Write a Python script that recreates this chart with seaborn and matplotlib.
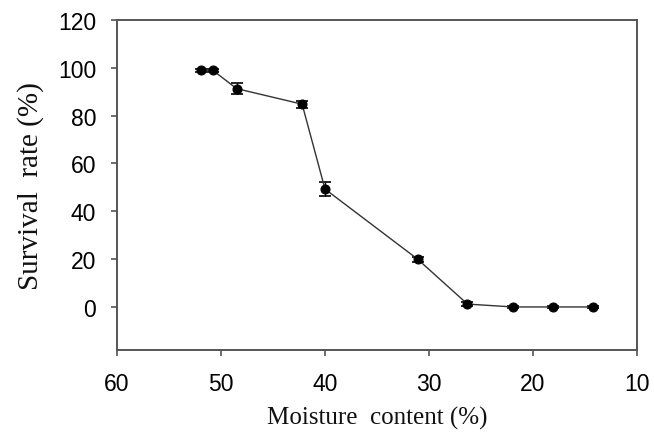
import matplotlib
matplotlib.use("Agg")
import matplotlib.pyplot as plt
import seaborn as sns
import pandas as pd

moisture = [51.9, 50.8, 48.5, 42.2, 40.0, 31.1, 26.3, 21.9, 18.1, 14.2]
survival = [99.0, 99.0, 91.3, 84.8, 49.3, 20.0, 1.2, 0.0, 0.0, 0.0]
errors = [0.6, 0.6, 2.2, 1.5, 2.9, 1.1, 0.8, 0.3, 0.3, 0.3]
x_ticks = [60, 50, 40, 30, 20, 10]
y_ticks = [0, 20, 40, 60, 80, 100, 120]

df = pd.DataFrame({"moisture": moisture, "survival": survival})

sns.set_style("white")
plt.rcParams["font.family"] = ["Liberation Sans", "DejaVu Sans"]

fig = plt.figure(figsize=(6.54, 4.35), dpi=100)
ax = fig.add_axes([117 / 654, 1 - 351 / 435, (637 - 117) / 654, (351 - 21) / 435])

ax.errorbar(moisture, survival, yerr=errors, fmt="none", ecolor="black",
            elinewidth=1.0, capsize=4, capthick=1.2, zorder=2)
sns.lineplot(data=df, x="moisture", y="survival", ax=ax, color="#333333",
             linewidth=1.0, marker="o", markersize=6.5, markerfacecolor="black",
             markeredgecolor="black", sort=False, zorder=3)

ax.set_xlim(60, 10)
ax.set_ylim(-18, 120)
ax.set_xticks(x_ticks)
ax.set_yticks(y_ticks)
ax.set_xticklabels([str(v) for v in x_ticks])
ax.set_yticklabels([str(v) for v in y_ticks])

for s in ax.spines.values():
    s.set_color("#555555")
    s.set_linewidth(1.4)
    s.set_visible(True)

ax.tick_params(axis="both", which="major", direction="out", length=4, width=1.2,
               color="#555555", labelsize=16.5, labelcolor="black",
               bottom=True, left=True, top=False, right=False)
ax.tick_params(axis="y", pad=11)
ax.tick_params(axis="x", pad=12)

ax.set_xlabel("Moisture  content (%)", fontsize=18, family=["Liberation Serif"],
              labelpad=8, color="#111111")
ax.set_ylabel("Survival  rate (%)", fontsize=21, family=["Liberation Serif"],
              labelpad=10, color="#111111")
ax.grid(False)

fig.savefig("out.png", dpi=100)
